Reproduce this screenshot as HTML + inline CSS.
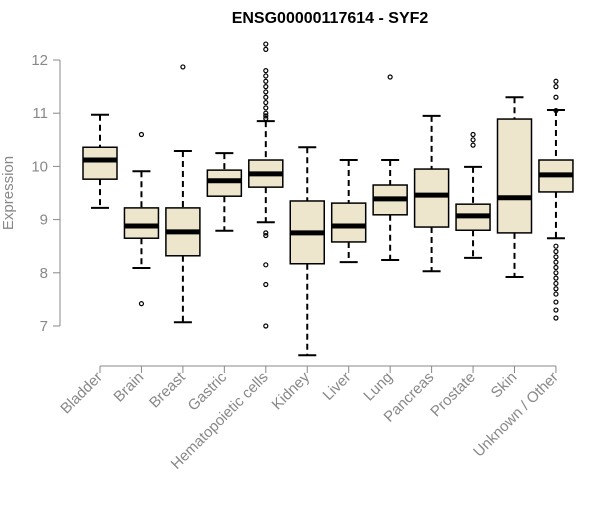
<!DOCTYPE html>
<html><head><meta charset="utf-8"><style>
body{margin:0;background:#fff;}
svg text{font-family:"Liberation Sans",Arial,sans-serif;}
</style></head><body>
<svg id="chart" width="600" height="500">
<text x="330" y="23" text-anchor="middle" font-size="16" font-weight="bold">ENSG00000117614 - SYF2</text>
<text x="13" y="193" transform="rotate(-90 13 193)" text-anchor="middle" font-size="15" fill="#888">Expression</text>
<g id="yaxis"></g>
<g id="xaxis"></g>
<g id="boxes"></g>
</svg>
<script>
const categories=["Bladder","Brain","Breast","Gastric","Hematopoietic cells","Kidney","Liver","Lung","Pancreas","Prostate","Skin","Unknown / Other"];
const whiskerLow=[9.22,8.09,7.07,8.79,8.95,6.45,8.2,8.24,8.03,8.28,7.92,8.65];
const q1=[9.76,8.65,8.32,9.44,9.61,8.17,8.58,9.09,8.86,8.80,8.75,9.52];
const medians=[10.12,8.88,8.77,9.73,9.86,8.75,8.88,9.39,9.46,9.07,9.41,9.84];
const q3=[10.36,9.22,9.22,9.93,10.12,9.35,9.31,9.65,9.95,9.29,10.89,10.12];
const whiskerHigh=[10.97,9.91,10.29,10.25,10.85,10.36,10.12,10.12,10.95,9.99,11.30,11.06];
const outliers=[[],[10.6,7.42],[11.87],[],[12.3,12.2,11.8,11.7,11.6,11.5,11.4,11.3,11.2,11.1,11.0,10.95,10.9,8.75,8.7,8.15,7.78,7.0],[],[],[11.68],[],[10.6,10.5,10.4],[],[11.6,11.5,11.3,11.05,8.5,8.4,8.3,8.2,8.1,8.0,7.9,7.8,7.7,7.6,7.45,7.3,7.15]];
const yTicks=[7,8,9,10,11,12];
const NS="http://www.w3.org/2000/svg";
function y(v){return 60+(12-v)*53.2;}
function x(i){return 100+i*41.45;}
function mk(tag,attrs,parent){const e=document.createElementNS(NS,tag);for(const k in attrs)e.setAttribute(k,attrs[k]);parent.appendChild(e);return e;}
const ya=document.getElementById('yaxis');
mk('line',{x1:60,x2:60,y1:y(12),y2:y(7),stroke:'#888'},ya);
yTicks.forEach(t=>{
 const l=mk('line',{x1:53,x2:60,y1:y(t),y2:y(t),stroke:'#888'},ya);
 
 
 const tx=mk('text',{x:48,y:y(t)+5,'text-anchor':'end','font-size':15,fill:'#888'},ya);
 tx.textContent=t;
 
 
});
const xa=document.getElementById('xaxis');
mk('line',{x1:x(0),x2:x(categories.length-1),y1:366,y2:366,stroke:'#888'},xa);
const bx=document.getElementById('boxes');
categories.forEach((c,i)=>{
 const cx=x(i);
 const t=mk('line',{x1:cx,x2:cx,y1:366,y2:373,stroke:'#888'},xa);
 
 
 const lb=mk('text',{x:cx+3,y:378,'text-anchor':'end','font-size':15,fill:'#888',transform:`rotate(-45 ${cx+3} 378)`},xa);
 lb.textContent=c;
 
 
 const g=mk('g',{},bx);
 
 
 mk('line',{x1:cx,x2:cx,y1:y(whiskerHigh[i]),y2:y(q3[i]),stroke:'#000','stroke-width':2,'stroke-dasharray':'6,4'},g);
 mk('line',{x1:cx,x2:cx,y1:y(q1[i]),y2:y(whiskerLow[i]),stroke:'#000','stroke-width':2,'stroke-dasharray':'6,4'},g);
 mk('line',{x1:cx-9,x2:cx+9,y1:y(whiskerHigh[i]),y2:y(whiskerHigh[i]),stroke:'#000','stroke-width':2},g);
 mk('line',{x1:cx-9,x2:cx+9,y1:y(whiskerLow[i]),y2:y(whiskerLow[i]),stroke:'#000','stroke-width':2},g);
 mk('rect',{x:cx-17,y:y(q3[i]),width:34,height:y(q1[i])-y(q3[i]),fill:'#ede5cc',stroke:'#000','stroke-width':1.5},g);
 mk('line',{x1:cx-17,x2:cx+17,y1:y(medians[i]),y2:y(medians[i]),stroke:'#000','stroke-width':5},g);
 outliers[i].forEach(o=>{
  const p=mk('circle',{cx:cx,cy:y(o),r:2,fill:'none',stroke:'#000','stroke-width':1.2},g);
  
  
 });
});
</script>
</body></html>
